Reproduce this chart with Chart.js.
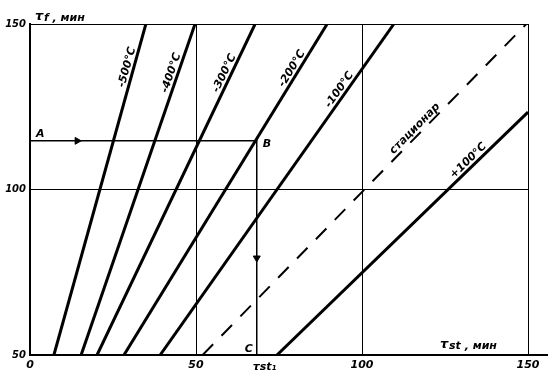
<!DOCTYPE html>
<html>
<head>
<meta charset="utf-8">
<script src="https://cdn.jsdelivr.net/npm/chart.js@4"></script>
<style>
  body { margin: 0; background: #fff; }
  #wrap { width: 556px; height: 377px; }
</style>
</head>
<body>
<div id="wrap"><canvas id="chart"></canvas></div>
<script>
// isotherms: tau_f vs tau_st
const lineNames = ['-500°C', '-400°C', '-300°C', '-200°C', '-100°C', 'стационар', '+100°C'];
const lineX = [[7.2, 34.9], [15.4, 49.7], [20.2, 67.8], [28.3, 89.5], [39.2, 109.6], [52, 149.5], [74.4, 150]];
const lineY = [[50, 150], [50, 150], [50, 150], [50, 150], [50, 150], [50, 150], [50, 123.4]];

// construction A -> B -> C
const pathX = [0, 68.3, 68.3];
const pathY = [114.7, 114.7, 50];
const pathNames = ['A', 'B', 'C'];
const arrowX = [14.2, 68.3];
const arrowY = [114.7, 79.3];

const xTicks = [0, 50, 100, 150];
const yTicks = [50, 100, 150];

const handFont = 'bold italic 11px "DejaVu Sans"';

const datasets = lineNames.map((name, i) => ({
  label: name,
  data: lineX[i].map((x, j) => ({ x: x, y: lineY[i][j] })),
  showLine: true,
  borderColor: '#000',
  borderWidth: name === 'стационар' ? 2 : 3,
  borderDash: name === 'стационар' ? [15, 12] : [],
  pointRadius: 0,
}));

datasets.push({
  label: 'path',
  data: pathX.map((x, j) => ({ x: x, y: pathY[j] })),
  showLine: true,
  borderColor: '#000',
  borderWidth: 1.5,
  pointRadius: 0,
});

datasets.push({
  label: 'arrows',
  data: arrowX.map((x, j) => ({ x: x, y: arrowY[j] })),
  showLine: false,
  pointStyle: 'triangle',
  rotation: [90, 180],
  pointRadius: 4,
  backgroundColor: '#000',
  borderColor: '#000',
  borderWidth: 1,
});

// where each isotherm label sits along its line (0 = start, 1 = end)
const labelPos = [0.864, 0.846, 0.843, 0.855, 0.79, 0.67, 0.78];

const annotate = {
  id: 'annotate',
  afterDatasetsDraw(chart) {
    const ctx = chart.ctx;
    const xs = chart.scales.x;
    const ys = chart.scales.y;
    ctx.save();
    ctx.fillStyle = '#000';
    ctx.strokeStyle = '#000';

    // x axis runs on past 150
    ctx.lineWidth = 2;
    ctx.beginPath();
    ctx.moveTo(xs.getPixelForValue(150), ys.getPixelForValue(50));
    ctx.lineTo(xs.getPixelForValue(150) + 20, ys.getPixelForValue(50));
    ctx.stroke();

    // labels along the lines
    ctx.font = handFont;
    ctx.textAlign = 'center';
    ctx.textBaseline = 'bottom';
    lineNames.forEach((name, i) => {
      const x0 = xs.getPixelForValue(lineX[i][0]);
      const y0 = ys.getPixelForValue(lineY[i][0]);
      const x1 = xs.getPixelForValue(lineX[i][lineX[i].length - 1]);
      const y1 = ys.getPixelForValue(lineY[i][lineY[i].length - 1]);
      const t = labelPos[i];
      const px = x0 + (x1 - x0) * t;
      const py = y0 + (y1 - y0) * t;
      ctx.save();
      ctx.translate(px, py);
      ctx.rotate(Math.atan2(y1 - y0, x1 - x0));
      ctx.fillText(name, 0, -1);
      ctx.restore();
    });

    // point names
    ctx.font = handFont;
    ctx.textBaseline = 'alphabetic';
    ctx.textAlign = 'left';
    ctx.fillText(pathNames[0], xs.getPixelForValue(pathX[0]) + 6, ys.getPixelForValue(pathY[0]) - 4);
    ctx.fillText(pathNames[1], xs.getPixelForValue(pathX[1]) + 6, ys.getPixelForValue(pathY[1]) + 6);
    ctx.textAlign = 'right';
    ctx.fillText(pathNames[2], xs.getPixelForValue(pathX[2]) - 4, ys.getPixelForValue(pathY[2]) - 3);
    ctx.textAlign = 'left';
    ctx.fillText('τst₁', xs.getPixelForValue(pathX[2]) - 4, ys.getPixelForValue(50) + 15);

    // axis titles
    ctx.font = 'bold italic 13px "DejaVu Sans"';
    ctx.fillText('τ', 35, 20);
    ctx.fillText('τ', 440, 348);
    ctx.font = handFont;
    ctx.fillText('f , мин', 44, 21);
    ctx.fillText('st , мин', 449, 349);
    ctx.restore();
  }
};

new Chart(document.getElementById('chart'), {
  type: 'scatter',
  data: { datasets: datasets },
  options: {
    responsive: true,
    maintainAspectRatio: false,
    animation: false,
    layout: { padding: { top: 24, right: 28, left: 0, bottom: 0 } },
    plugins: {
      legend: { display: false },
      tooltip: { enabled: false },
    },
    scales: {
      x: {
        type: 'linear',
        min: 0,
        max: 150,
        afterBuildTicks: (s) => { s.ticks = xTicks.map(v => ({ value: v })); },
        afterFit: (s) => { s.height = 22; },
        grid: { color: '#000', lineWidth: 1, drawTicks: false },
        border: { color: '#000', width: 2 },
        ticks: {
          color: '#000',
          font: { family: 'DejaVu Sans', size: 11, style: 'italic', weight: 'bold' },
          padding: 4,
          maxRotation: 0,
        },
      },
      y: {
        type: 'linear',
        min: 50,
        max: 150,
        afterBuildTicks: (s) => { s.ticks = yTicks.map(v => ({ value: v })); },
        afterFit: (s) => { s.width = 30; },
        grid: { color: '#000', lineWidth: 1, drawTicks: false },
        border: { color: '#000', width: 2 },
        ticks: {
          color: '#000',
          font: { family: 'DejaVu Sans', size: 10, style: 'italic', weight: 'bold' },
          padding: 4,
        },
      },
    },
  },
  plugins: [annotate],
});
</script>
</body>
</html>
